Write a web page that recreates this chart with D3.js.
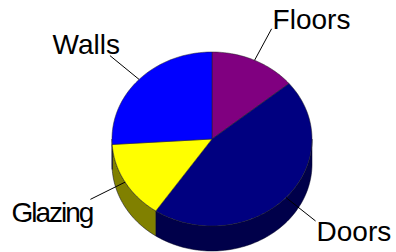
<!DOCTYPE html>
<html>
<head>
<meta charset="utf-8">
<script src="https://cdn.jsdelivr.net/npm/d3@7"></script>
<style>
  body { margin: 0; background: #fff; }
  svg { display: block; }
  .label { font-family: "Liberation Sans", Arial, sans-serif; font-size: 28px; fill: #000; }
</style>
</head>
<body>
<svg id="chart" width="396" height="252"></svg>
<script>
// slices, clockwise from 12 o'clock
const categories = ['Floors', 'Doors', 'Glazing', 'Walls'];
const values = [14, 45.5, 14.5, 26];
const topColors = ['#800080', '#000080', '#ffff00', '#0000ff'];
const sideColors = ['#400040', '#00004a', '#808000', '#000080'];

const svg = d3.select('#chart');
const cx = 212, cy = 139, rx = 100, ry = 87, depth = 25;

let data = categories.map(function(c, i) {
  return { name: c, value: values[i], top: topColors[i], side: sideColors[i] };
});

let pie = d3.pie().sort(null).value(function(d) { return d.value; });
let arcs = pie(data);

function px(a, k) { return cx + rx * (k || 1) * Math.sin(a); }
function py(a, k) { return cy - ry * (k || 1) * Math.cos(a); }

function topPath(d) {
  let pts = [[cx, cy]];
  let n = Math.max(2, Math.ceil((d.endAngle - d.startAngle) * 40));
  for (let i = 0; i <= n; i++) {
    let a = d.startAngle + (d.endAngle - d.startAngle) * i / n;
    pts.push([px(a), py(a)]);
  }
  return d3.line()(pts) + 'Z';
}

// only the front half of the rim is visible
function sidePath(d) {
  let a0 = Math.max(d.startAngle, Math.PI / 2);
  let a1 = Math.min(d.endAngle, Math.PI * 3 / 2);
  if (a1 <= a0) return null;
  let n = Math.max(2, Math.ceil((a1 - a0) * 40));
  let upper = [], lower = [];
  for (let i = 0; i <= n; i++) {
    let a = a0 + (a1 - a0) * i / n;
    upper.push([px(a), py(a)]);
    lower.unshift([px(a), py(a) + depth]);
  }
  return d3.line()(upper.concat(lower)) + 'Z';
}

let sides = svg.append('g').attr('class', 'sides');
sides.selectAll('path')
  .data(arcs.filter(function(d) { return sidePath(d); }))
  .enter().append('path')
    .attr('d', sidePath)
    .attr('fill', function(d) { return d.data.side; })
    .attr('stroke', '#000020')
    .attr('stroke-width', 0.5);

let tops = svg.append('g').attr('class', 'tops');
tops.selectAll('path')
  .data(arcs)
  .enter().append('path')
    .attr('d', topPath)
    .attr('fill', function(d) { return d.data.top; })
    .attr('stroke', '#202020')
    .attr('stroke-width', 0.5)
    .attr('stroke-linejoin', 'round');

// leader lines + labels
const labelNudge = { Walls: [10, -2], Glazing: [2, 3], Floors: [1, 0], Doors: [1, 0] };

let labels = svg.append('g').attr('class', 'labels');
arcs.forEach(function(d) {
  let mid = (d.startAngle + d.endAngle) / 2;
  let x0 = px(mid), y0 = py(mid);
  let x1 = px(mid, 1.4), y1 = py(mid, 1.4);
  labels.append('line')
    .attr('x1', x0).attr('y1', y0)
    .attr('x2', x1).attr('y2', y1)
    .attr('stroke', '#000')
    .attr('stroke-width', 1);

  let right = Math.sin(mid) > 0;
  let lower = Math.cos(mid) < 0;
  let nudge = labelNudge[d.data.name] || [0, 0];
  labels.append('text')
    .attr('class', 'label')
    .attr('x', x1 + nudge[0])
    .attr('y', y1 + nudge[1] + (lower ? 20 : 0))
    .attr('text-anchor', right ? 'start' : 'end')
    .attr('letter-spacing', d.data.name === 'Glazing' ? -2 : 0)
    .text(d.data.name);
});
</script>
</body>
</html>
